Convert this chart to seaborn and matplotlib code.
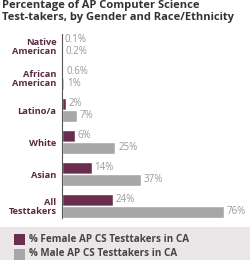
import matplotlib
matplotlib.use("Agg")
import matplotlib.pyplot as plt
import seaborn as sns
import pandas as pd
from matplotlib.patches import Rectangle

categories = ["Native\nAmerican", "African\nAmerican", "Latino/a", "White", "Asian", "All\nTesttakers"]
female = [0.1, 0.6, 2, 6, 14, 24]
male = [0.2, 1, 7, 25, 37, 76]
female_labels = ["0.1%", "0.6%", "2%", "6%", "14%", "24%"]
male_labels = ["0.2%", "1%", "7%", "25%", "37%", "76%"]
series = ["% Female AP CS Testtakers in CA", "% Male AP CS Testtakers in CA"]
title = "Percentage of AP Computer Science\nTest-takers, by Gender and Race/Ethnicity"

c_f = "#6b2d4e"
c_m = "#a7a7a9"
lab_col = "#5a2843"
val_col = "#9a9a9a"

df = pd.DataFrame({
    "cat": categories * 2,
    "val": female + male,
    "series": [series[0]] * len(categories) + [series[1]] * len(categories),
})

sns.set_style("white")
plt.rcParams["font.family"] = ["Open Sans", "DejaVu Sans"]

fig = plt.figure(figsize=(2.5, 2.6), dpi=100)
ax = fig.add_axes([0.248, 1 - 218 / 260, 0.70, 184 / 260])
sns.barplot(data=df, y="cat", x="val", hue="series", orient="h",
            palette=[c_f, c_m], width=0.75, dodge=True, ax=ax,
            legend=False, saturation=1)
ax.set_xlim(0, 82)
ax.set_ylim(5.375, -0.375)
for s in ["top", "right", "bottom"]:
    ax.spines[s].set_visible(False)
ax.spines["left"].set_color("#555555")
ax.spines["left"].set_linewidth(0.8)
ax.set_xticks([])
ax.set_xlabel("")
ax.set_ylabel("")
ax.tick_params(axis="y", length=0, pad=4)
ax.set_yticks(range(len(categories)))
ax.set_yticklabels(categories, fontsize=6.7, fontweight="bold", color=lab_col,
                   linespacing=1.05)

for cont, labels in zip(ax.containers, [female_labels, male_labels]):
    ax.bar_label(cont, labels=labels, padding=2, fontsize=7, color=val_col)

fig.text(0.008, 1 - 20 / 260, title, fontsize=8, fontweight="bold", color="#333333",
         ha="left", va="baseline", linespacing=1.15)

# legend box
fig.patches.append(Rectangle((0, 0), 1, 1 - 227 / 260, transform=fig.transFigure,
                             facecolor="#ebe7e9", edgecolor="none", zorder=0))
for i, (name, col) in enumerate(zip(series, [c_f, c_m])):
    yc = 1 - (239 + 15 * i) / 260
    fig.patches.append(Rectangle((14 / 250, yc - 5.5 / 260), 11 / 250, 11 / 260,
                                 transform=fig.transFigure, facecolor=col,
                                 edgecolor="none", zorder=1))
    fig.text(29 / 250, yc, name, fontsize=7.1, fontweight="bold", color="#444444",
             ha="left", va="center")

fig.savefig("out.png", dpi=100)
